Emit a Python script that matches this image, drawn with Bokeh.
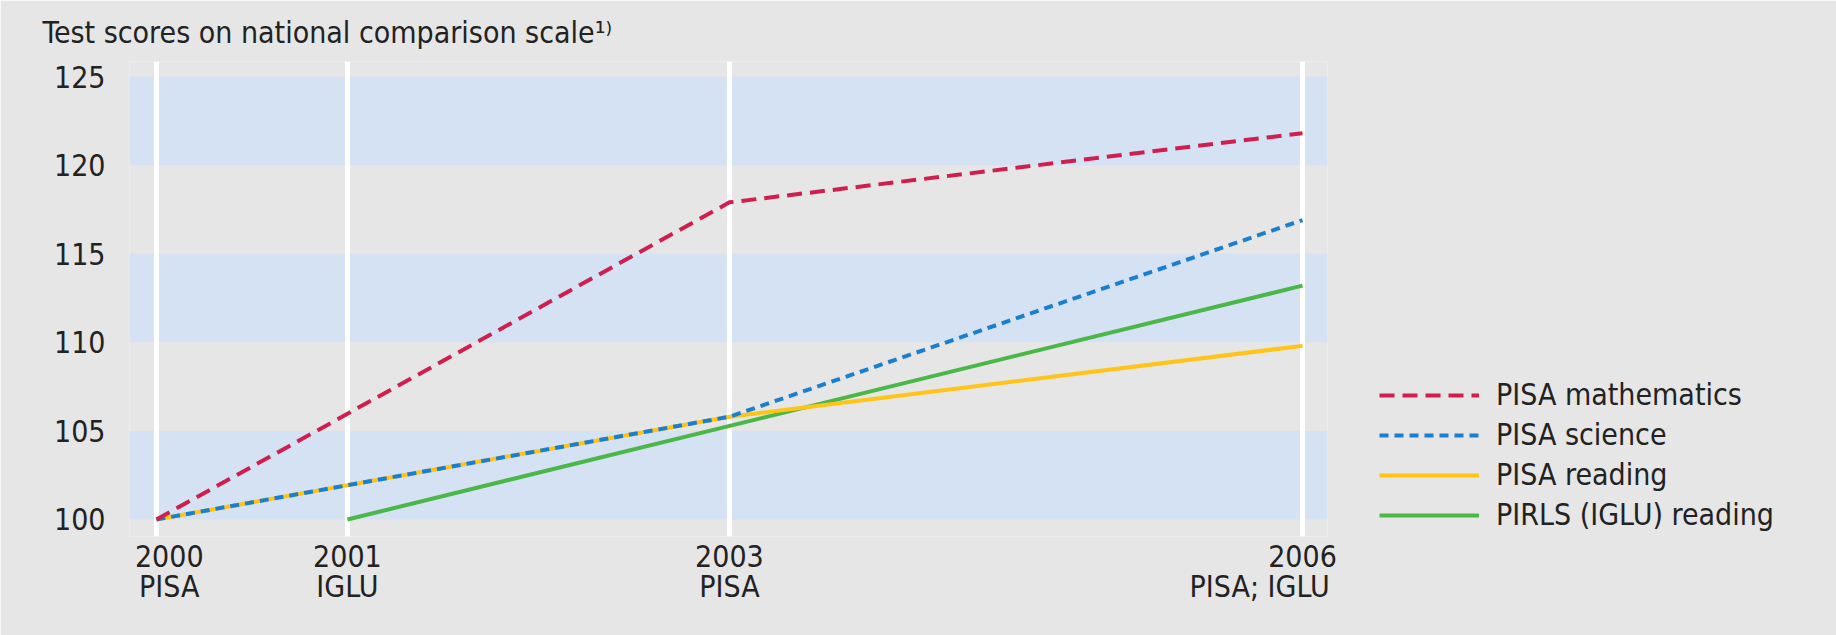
from bokeh.plotting import figure
from bokeh.models import (Range1d, FixedTicker, BoxAnnotation, Span, Legend, LegendItem)
from bokeh.embed import file_html
from bokeh.resources import INLINE

# ---- data ----
years_pisa = [2000, 2003, 2006]
pisa_math = [100, 117.9, 121.8]
pisa_science = [100, 105.8, 116.9]
pisa_reading = [100, 105.8, 109.8]
years_pirls = [2001, 2006]
pirls_reading = [100, 113.2]

tick_years = [2000, 2001, 2003, 2006]
NB = "\u00a0"
tick_labels = [NB * 3 + "2000\n" + NB * 3 + "PISA", "2001\nIGLU", "2003\nPISA",
               "2006\nPISA; IGLU" + NB * 10]
y_ticks = [100, 105, 110, 115, 120, 125]
band_bottoms = [100, 110, 120]
band_tops = [105, 115, 125]
title_text = "Test scores on national comparison scale\u00b9\u207e"

FONT = "'DejaVu Sans Condensed', 'Liberation Sans Narrow', 'Roboto Condensed', 'Roboto', sans-serif"
BG = "#e6e6e6"
BAND = "#d4e2f4"
TXT = "#222222"
FS = "30px"

p = figure(frame_width=1198, frame_height=475, width=1836, height=635,
           x_range=Range1d(1999.859, 2006.131), y_range=Range1d(99.04, 125.85),
           output_backend="svg", toolbar_location=None,
           min_border_left=129, min_border_right=509, min_border_top=61, min_border_bottom=99,
           background_fill_color=BG, border_fill_color=BG, outline_line_color=None)

p.title.text = title_text
p.title.align = "left"
p.title.offset = -87
p.title.standoff = 24
p.title.text_font = FONT
p.title.text_font_size = FS
p.title.text_font_style = "normal"
p.title.text_color = TXT

p.xgrid.visible = False
p.ygrid.visible = False

for b, t in zip(band_bottoms, band_tops):
    p.add_layout(BoxAnnotation(bottom=b, top=t, fill_color=BAND, fill_alpha=1,
                               line_color=None, level="underlay"))
for yr in tick_years:
    p.add_layout(Span(location=yr, dimension="height", line_color="white",
                      line_width=5, level="underlay"))

r_pirls = p.line(years_pirls, pirls_reading, line_color="#4bb749", line_width=4)
r_read = p.line(years_pisa, pisa_reading, line_color="#ffc414", line_width=4)
r_sci = p.line(years_pisa, pisa_science, line_color="#1b7fcf", line_width=4, line_dash="9 6")
r_math = p.line(years_pisa, pisa_math, line_color="#cf1f4f", line_width=4, line_dash="15 8")

# axes
p.yaxis.ticker = FixedTicker(ticks=y_ticks)
p.xaxis.ticker = FixedTicker(ticks=tick_years)
p.xaxis.major_label_overrides = {y: l for y, l in zip(tick_years, tick_labels)}
for ax in (p.xaxis, p.yaxis):
    ax.axis_line_color = None
    ax.major_tick_line_color = None
    ax.minor_tick_line_color = None
    ax.major_tick_out = 0
    ax.major_tick_in = 0
    ax.minor_tick_out = 0
    ax.major_label_text_font = FONT
    ax.major_label_text_font_size = FS
    ax.major_label_text_color = TXT
p.xaxis.major_label_text_line_height = 0.88
p.yaxis.major_label_standoff = 24
p.xaxis.major_label_standoff = 2

legend = Legend(items=[
    LegendItem(label="PISA mathematics", renderers=[r_math]),
    LegendItem(label="PISA science", renderers=[r_sci]),
    LegendItem(label="PISA reading", renderers=[r_read]),
    LegendItem(label="PIRLS (IGLU) reading", renderers=[r_pirls]),
], location=(52, 4), glyph_width=100, glyph_height=30, label_standoff=17,
    spacing=5, padding=0, margin=0, border_line_color=None,
    background_fill_alpha=0, label_text_font=FONT, label_text_font_size=FS,
    label_text_color=TXT)
p.add_layout(legend, "right")

open("out.html", "w").write(file_html(p, INLINE))
